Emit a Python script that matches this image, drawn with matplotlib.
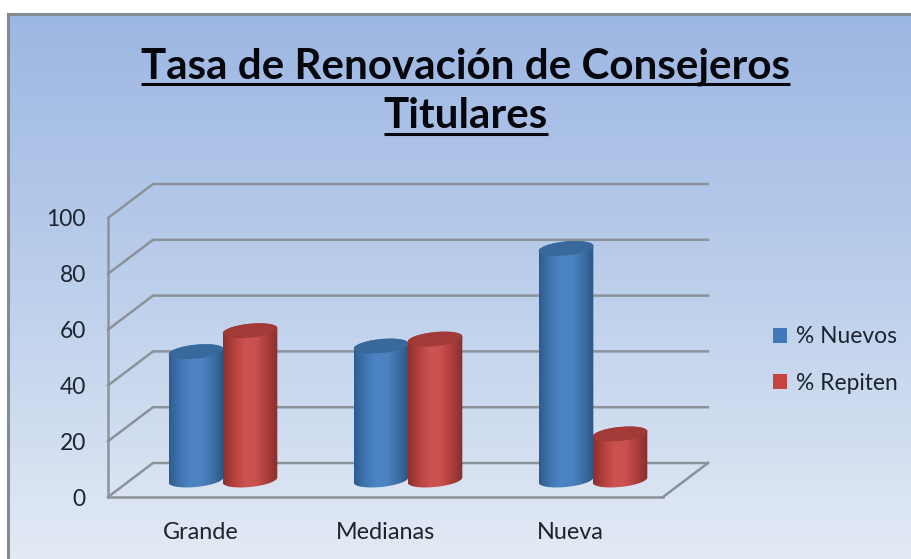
import numpy as np
import matplotlib.pyplot as plt
from matplotlib.colors import LinearSegmentedColormap
from matplotlib.lines import Line2D
from matplotlib.patches import Patch, PathPatch, Polygon
from matplotlib.path import Path

plt.switch_backend('Agg')
plt.rcParams['font.family'] = ['Lato', 'DejaVu Sans']

# data
categories = ["Grande", "Medianas", "Nueva"]
nuevos = [46, 48, 83]
repiten = [53.5, 50.5, 16.5]
y_ticks = [0, 20, 40, 60, 80, 100]
title_lines = ["Tasa de Renovación de Consejeros", "Titulares"]

W, H = 912, 559
fig = plt.figure(figsize=(W / 100, H / 100), dpi=100, facecolor='white')

# background panel with vertical gradient
bg = fig.add_axes([8 / W, 0, (W - 8) / W, (H - 14) / H])
bg_cmap = LinearSegmentedColormap.from_list("bg", ["#9db7e3", "#bccfeb", "#e3eaf5"])
bg.imshow(np.linspace(0, 1, 256).reshape(-1, 1), cmap=bg_cmap, aspect='auto')
bg.set_xticks([])
bg.set_yticks([])
for side in ['right', 'bottom']:
    bg.spines[side].set_visible(False)
for side in ['left', 'top']:
    bg.spines[side].set_color('#858a90')
    bg.spines[side].set_linewidth(2.2)

# plot axes = front plane of the 3d box
left, right, y0, y100 = 108, 663, 497, 218
ax = fig.add_axes([left / W, 1 - y0 / H, (right - left) / W, (y0 - y100) / H])
ax.patch.set_alpha(0)
ax.set_xlim(0, 3)
ax.set_ylim(0, 100)

# pixel -> data scale
sx = 3 / (right - left)
sy = 100 / (y0 - y100)
depth_x = 45 * sx
depth_y = 34 * sy
grid_color = '#8c9299'

# walls
for v in y_ticks:
    ax.plot([0, depth_x, 3 + depth_x], [v, v + depth_y, v + depth_y], color=grid_color,
            lw=1.8, clip_on=False, zorder=1, solid_joinstyle='miter')
ax.plot([3, 3 + depth_x], [0, depth_y], color=grid_color, lw=1.8, clip_on=False, zorder=1)

for side in ['top', 'right']:
    ax.spines[side].set_visible(False)
for side in ['left', 'bottom']:
    ax.spines[side].set_color(grid_color)
    ax.spines[side].set_linewidth(1.8)
    ax.spines[side].set_zorder(1)

ax.set_xticks(np.arange(3) + 0.5, categories)
ax.set_yticks(y_ticks)
ax.tick_params(axis='x', length=0, pad=18, labelsize=16.8, labelcolor='#1c2430')
ax.tick_params(axis='y', length=0, pad=16, labelsize=16.4, labelcolor='#1c2430')


def cylinder(cx, value, side_colors, top_color, z):
    a = 27.3 * sx
    b = 7 * sy
    tilt = 2.6 * sy
    base = depth_y / 2
    top = value + depth_y / 2

    t1 = np.linspace(np.pi, 2 * np.pi, 40)
    t2 = np.linspace(0, np.pi, 40)
    xs = np.r_[cx + a * np.cos(t1), cx + a * np.cos(t2)]
    ys = np.r_[base + b * np.sin(t1) + tilt * np.cos(t1),
               top + b * np.sin(t2) + tilt * np.cos(t2)]
    body = PathPatch(Path(np.c_[xs, ys]), fc='none', ec='none', zorder=z,
                     clip_on=False)
    ax.add_patch(body)
    cmap = LinearSegmentedColormap.from_list("cyl", side_colors)
    im = ax.imshow(np.linspace(0, 1, 128).reshape(1, -1), cmap=cmap, aspect='auto',
                   extent=[cx - a, cx + a, base - 2 * b, top + 2 * b],
                   zorder=z, interpolation='bilinear')
    im.set_clip_path(body)

    t = np.linspace(0, 2 * np.pi, 80)
    ax.add_patch(Polygon(np.c_[cx + a * np.cos(t), top + b * np.sin(t) + tilt * np.cos(t)],
                         fc=top_color, ec='none', zorder=z + 0.1, clip_on=False))


blue_side = ['#2f5c8e', '#3f74b0', '#4d85c4', '#4b83c0', '#3d70a8', '#2c5583']
red_side = ['#8c2f2d', '#b5413e', '#cb5350', '#ca514e', '#ac3d3a', '#853030']
for i in range(3):
    c = i + 0.5 + depth_x / 2
    cylinder(c - 27 * sx, nuevos[i], blue_side, '#37699d', 3 + i)
    cylinder(c + 27 * sx, repiten[i], red_side, '#a23a37', 3.5 + i)

ax.set_xlim(0, 3)
ax.set_ylim(0, 100)

# legend
handles = [Patch(fc='#4279b8', ec='none', label='% Nuevos'),
           Patch(fc='#c8423f', ec='none', label='% Repiten')]
leg = fig.legend(handles=handles, loc='center left', bbox_to_anchor=(773 / W, 1 - 360 / H),
                 frameon=False, fontsize=16.4, labelcolor='#1c2430', handlelength=0.62,
                 handleheight=0.62, handletextpad=0.4, labelspacing=1.1,
                 borderpad=0, borderaxespad=0)

# title, underlined by hand since text has no underline option
title_y = [78, 128]
line_y = [84, 134]
fig.canvas.draw()
renderer = fig.canvas.get_renderer()
for line, ty, ly in zip(title_lines, title_y, line_y):
    t = fig.text(466 / W, 1 - ty / H, line, ha='center', va='baseline', fontsize=30.3,
                 fontweight='bold', color='#05070d')
    box = t.get_window_extent(renderer)
    fig.add_artist(Line2D([box.x0 / W, box.x1 / W], [1 - ly / H, 1 - ly / H], color='#05070d',
                          lw=2.2, transform=fig.transFigure, solid_capstyle='butt'))

fig.savefig("out.png", dpi=100)
